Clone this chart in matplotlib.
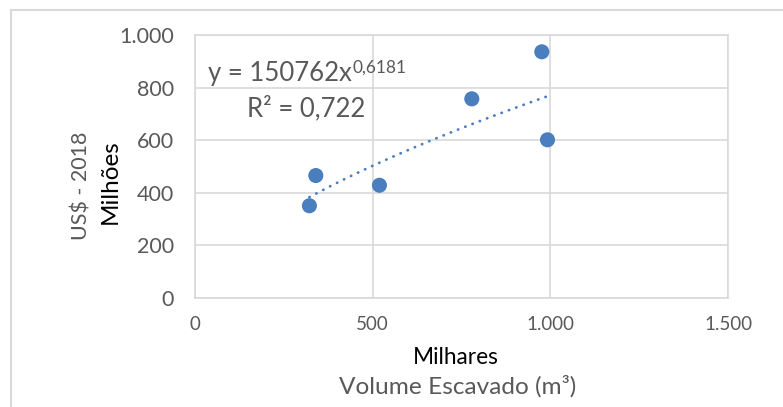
import numpy as np
import matplotlib.pyplot as plt
from matplotlib.lines import Line2D

plt.rcParams['font.family'] = ['Lato', 'DejaVu Sans']

# volume escavado (milhares de m3) e custo (milhoes US$ 2018)
volume = [322, 340, 519, 779, 976, 992]
custo = [350, 465, 428, 757, 936, 601]

# linha de tendencia potencial mostrada no grafico
coef_a = 150762
coef_b = 0.6181
eq_text = 'y = 150762x'
eq_exp = '0,6181'
r2_text = 'R² = 0,722'

xticks = [0, 500, 1000, 1500]
xticklabels = ['0', '500', '1.000', '1.500']
yticks = [0, 200, 400, 600, 800, 1000]
yticklabels = ['0', '200', '400', '600', '800', '1.000']

W, H = 783, 407
fig = plt.figure(figsize=(W / 100, H / 100), dpi=100)
ax = fig.add_axes([195 / W, 1 - 297.7 / H, 533 / W, 262.7 / H])

blue = '#4A7EBF'
grid = '#D9D9D9'
txt = '#595959'

# tendencia: x em m3, y em US$
xt = np.linspace(min(volume), max(volume), 60)
yt = coef_a * (xt * 1000) ** coef_b / 1e6
ax.plot(xt, yt, color=blue, lw=2, linestyle=(0, (0.1, 2.7)),
        dash_capstyle='round', zorder=2)
ax.scatter(volume, custo, s=118, color=blue, edgecolors='none', zorder=3)

ax.set_xlim(0, 1500)
ax.set_ylim(0, 1000)
ax.set_xticks(xticks)
ax.set_xticklabels(xticklabels)
ax.set_yticks(yticks)
ax.set_yticklabels(yticklabels)
ax.grid(True, color=grid, lw=1.2)
ax.set_axisbelow(True)
for s in ax.spines.values():
    s.set_color(grid)
    s.set_linewidth(1.2)
ax.tick_params(length=0, colors=txt)
ax.tick_params(axis='y', labelsize=15.5, pad=15)
ax.tick_params(axis='x', labelsize=13.5, pad=13)

t = ax.text(36, 823, eq_text, fontsize=18.5, color=txt, va='baseline', ha='left')
ax.text(145, 690, r2_text, fontsize=18.5, color=txt, va='baseline', ha='left')

# expoente posicionado logo apos o texto da equacao
fig.canvas.draw()
bb = t.get_window_extent()
fig.text((bb.x1 + 1) / W, (bb.y0 + 5 + 9) / H, eq_exp, fontsize=12.5,
         color=txt, ha='left', va='baseline')

fig.text(81 / W, 1 - 186 / H, 'US$ - 2018', rotation=90, fontsize=15.5,
         color=txt, ha='center', va='center')
fig.text(110 / W, 1 - 182 / H, 'Milhões', rotation=90, fontsize=17.5,
         color='black', ha='center', va='center')
fig.text(456 / W, 1 - 358 / H, 'Milhares', fontsize=16.3, color='black',
         ha='center', va='center')
fig.text(458 / W, 1 - 386 / H, 'Volume Escavado (m³)', fontsize=17.6,
         color=txt, ha='center', va='center')

# moldura da area do grafico
x0 = 11 / W
y0 = 1 - 10 / H
fig.add_artist(Line2D([x0, x0], [0, y0], color=grid, lw=1.5))
fig.add_artist(Line2D([x0, 1], [y0, y0], color=grid, lw=1.5))

fig.savefig('out.png', dpi=100)
